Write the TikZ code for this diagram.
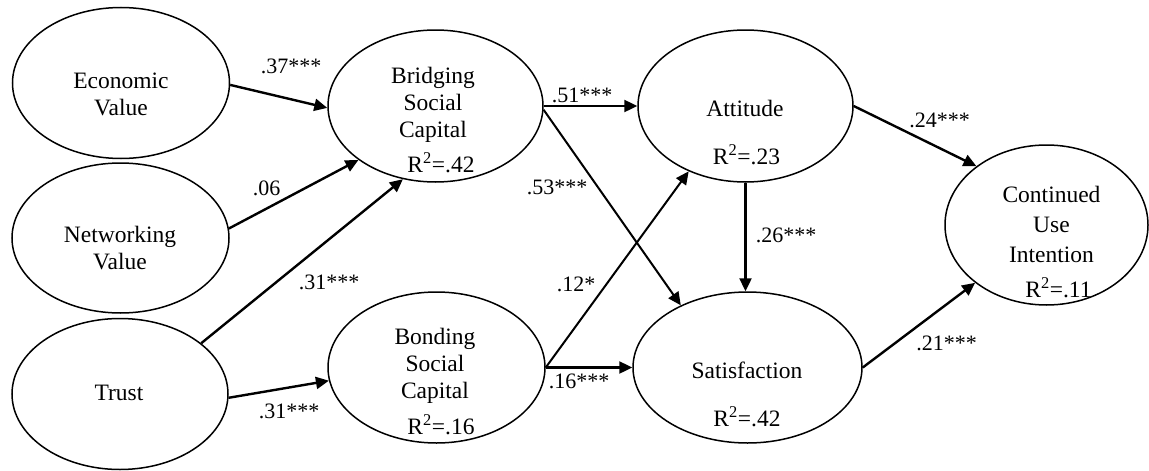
\documentclass[tikz,border=0pt]{standalone}
\usepackage{fontspec}
\setmainfont{Liberation Serif}
\usetikzlibrary{shapes.geometric,arrows.meta}
\tikzset{
  latent/.style={ellipse, draw, line width=1.5pt, inner sep=0pt},
  lbl/.style={font=\fontsize{23.5}{27}\selectfont, align=center, inner sep=0pt},
  coef/.style={font=\fontsize{22}{27}\selectfont, inner sep=0pt},
  arr/.style={line width=2.4pt, -{Triangle[length=13pt,width=12pt]}},
  arrthin/.style={line width=2pt, -{Triangle[length=13pt,width=12pt]}},
}
\begin{document}
\begin{tikzpicture}[x=1pt,y=-1pt]
\fill[white] (0,0) rectangle (1149,471);
\useasboundingbox (0,0) rectangle (1149,471);

% latent variables
\node[latent, minimum width=217pt, minimum height=151pt] (ev) at (121,83) {};
\node[latent, minimum width=217pt, minimum height=150pt] (nv) at (120.5,238) {};
\node[latent, minimum width=216pt, minimum height=151pt] (tr) at (120,394) {};
\node[latent, minimum width=215pt, minimum height=152pt] (bsc) at (435.5,106) {};
\node[latent, minimum width=217pt, minimum height=151pt] (bond) at (436.5,367.5) {};
\node[latent, minimum width=215pt, minimum height=152pt] (att) at (745.5,106) {};
\node[latent, minimum width=229pt, minimum height=151pt] (sat) at (747.5,367.5) {};
\node[latent, minimum width=203pt, minimum height=160pt] (cui) at (1046.5,225) {};

% texts
\node[lbl] (evt) at (121,94.5) {Economic\\Value};
\node[lbl] (nvt) at (120,248.5) {Networking\\Value};
\node[lbl] (trt) at (119,393) {Trust};
\node[lbl] (bsct) at (433,104.5) {Bridging\\Social\\Capital};
\node[lbl] (bsr) at (441,163) {R\textsuperscript{2}=.42};
\node[lbl] (bondt) at (435,366) {Bonding\\Social\\Capital};
\node[lbl] (bondr) at (441,425) {R\textsuperscript{2}=.16};
\node[lbl] (attt) at (745,108) {Attitude};
\node[lbl] (attr) at (746.5,155) {R\textsuperscript{2}=.23};
\node[lbl] (satt) at (747,370) {Satisfaction};
\node[lbl] (satr) at (747,417) {R\textsuperscript{2}=.42};
\node[lbl, font=\fontsize{23.5}{30}\selectfont] (cuit) at (1051.5,224.5) {Continued\\Use\\Intention};
\node[lbl] (cuir) at (1058.5,288) {R\textsuperscript{2}=.11};

% paths
\draw[arr] (ev.-1) -- (bsc.181);
\draw[arr] (nv.5) -- (bsc.215);
\draw[arr] (tr.32) -- (bsc.246);
\draw[arr] (tr.-2) -- (bond.187.6);
\draw[arr] (bsc) -- (att);
\draw[arrthin] (bsc.-2) -- (sat.137);
\draw[arrthin] (bond.east) -- (att.229);
\draw[arr] (bond) -- (sat);
\draw[arr] (att.south) -- (att.south |- sat.north);
\draw[arr] (att.east) -- (cui.140);
\draw[arr] (sat.east) -- (cui.219.4);

% coefficients
\node[coef] (c1) at (291,66) {.37***};
\node[coef] (c2) at (266.5,188.5) {.06};
\node[coef] (c3) at (329,282) {.31***};
\node[coef] (c4) at (289,411) {.31***};
\node[coef] (c5) at (582,95.5) {.51***};
\node[coef] (c6) at (557,187.5) {.53***};
\node[coef] (c7) at (576,284) {.12*};
\node[coef] (c8) at (579,381) {.16***};
\node[coef] (c9) at (786,235) {.26***};
\node[coef] (c10) at (939.5,120) {.24***};
\node[coef] (c11) at (946.5,343) {.21***};
\end{tikzpicture}
\end{document}
